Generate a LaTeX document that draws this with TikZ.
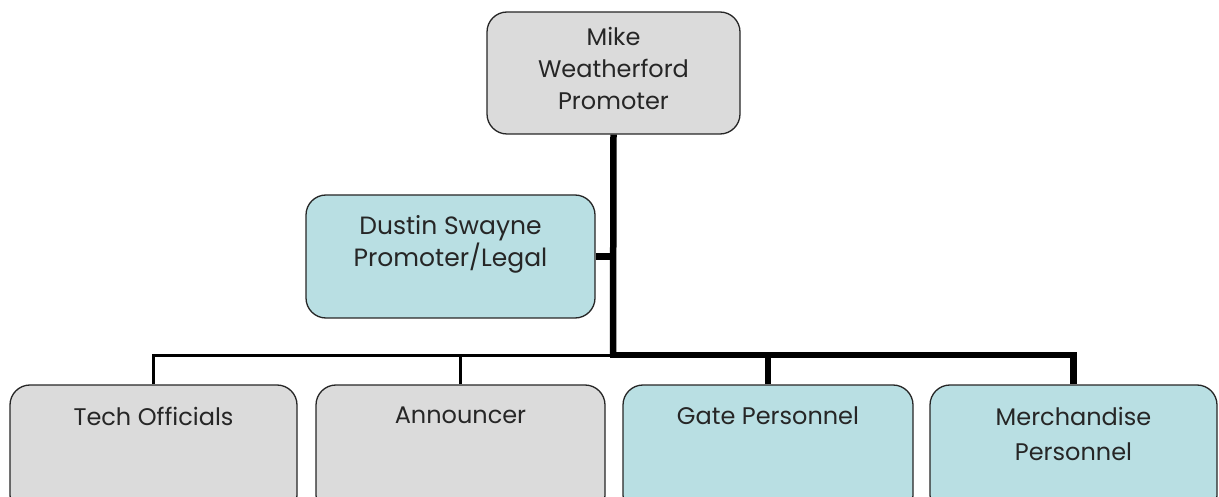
\documentclass[tikz,border=0pt]{standalone}
\usepackage{fontspec}
\setmainfont{Poppins}
\tikzset{
  box/.style={draw=black!85, line width=1.3pt, rounded corners=20pt, inner sep=0pt},
  graybox/.style={box, fill=gray!28},
  tealbox/.style={box, fill={rgb,255:red,185;green,223;blue,227}},
  lbl/.style={anchor=north, align=center, font=\fontsize{24}{32}\selectfont, text=black!85, inner sep=0pt},
  thickline/.style={line width=6.5pt},
  thinline/.style={line width=3pt},
}
\begin{document}
\begin{tikzpicture}[x=1pt,y=-1pt]
\useasboundingbox (0,0) rectangle (1219,497);
\clip (0,0) rectangle (1219,497);
% boxes
\node[graybox, minimum width=253pt, minimum height=122pt] (mike) at (613.5,73) {};
\node[tealbox, minimum width=289pt, minimum height=123pt] (dustin) at (450.5,256.5) {};
\node[graybox, minimum width=287pt, minimum height=130pt] (tech) at (153.5,450) {};
\node[graybox, minimum width=289pt, minimum height=130pt] (ann) at (460.5,450) {};
\node[tealbox, minimum width=290pt, minimum height=130pt] (gate) at (768,450) {};
\node[tealbox, minimum width=287pt, minimum height=130pt] (merch) at (1073.5,450) {};
% labels
\node[lbl] (tmike) at (613.5,27) {Mike\\Weatherford\\Promoter};
\node[lbl, font=\fontsize{25}{32}\selectfont] (tdustin) at (450.5,215) {Dustin Swayne\\Promoter/Legal};
\node[lbl] (ttech) at (153.5,407) {Tech Officials};
\node[lbl] (tann) at (460.5,407) {Announcer};
\node[lbl] (tgate) at (768,407) {Gate Personnel};
\node[lbl, font=\fontsize{24}{35}\selectfont] (tmerch) at (1073.5,407) {Merchandise\\Personnel};
% connectors
\coordinate (j) at (613,355);
\draw[thinline] (j) -| (tech.north);
\draw[thinline] (ann.north) -- (ann.north |- j);
\draw[thickline] (mike.south) -- (j);
\draw[thickline] (dustin.east) -- (dustin.east -| j);
\draw[thickline] ([xshift=-3.25pt]j) -| (merch.north);
\draw[thickline] (gate.north) -- (gate.north |- j);
\end{tikzpicture}
\end{document}
